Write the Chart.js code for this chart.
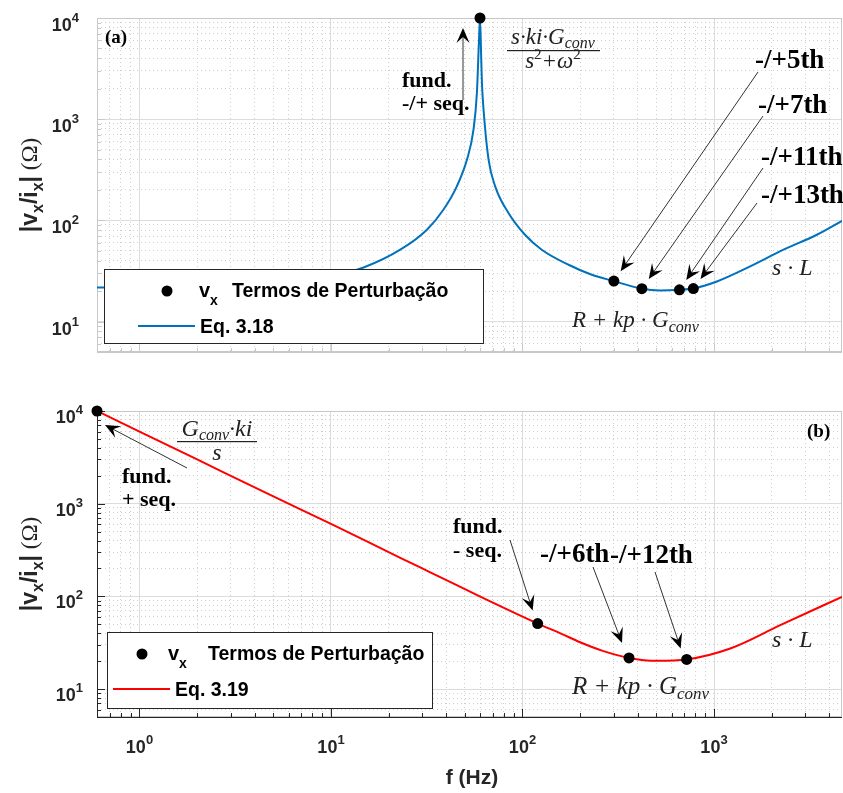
<!DOCTYPE html>
<html>
<head>
<meta charset="utf-8">
<script src="https://cdn.jsdelivr.net/npm/chart.js@4.4.0/dist/chart.umd.min.js"></script>
<style>
  body { margin: 0; background: #fff; width: 843px; height: 793px; overflow: hidden; position: relative; }
  canvas { position: absolute; left: 0; }
  #topChart { top: 0; }
  #botChart { top: 380px; }
</style>
</head>
<body>
<canvas id="topChart" width="843" height="380"></canvas>
<canvas id="botChart" width="843" height="413"></canvas>
<script>
// ---- data ----
// (a) Eq. 3.18
const freqA = [0.6, 2, 5, 8, 11, 14.8, 23, 31.7, 38.7, 45.4, 51.3, 55.5, 57.8, 59.2, 60,
               60.9, 61.4, 62.6, 66.5, 72, 84.5, 103, 126, 174, 230, 300, 420, 524, 658, 777,
               1035, 1545, 2307, 3444, 4660];
const zA = [21.7, 21.7, 23.2, 25.8, 29.3, 34.2, 51.3, 80.9, 128, 217, 399, 791, 1824, 5700, 10000,
            3900, 2290, 1247, 399, 217, 118, 72, 51.3, 36.4, 29.0, 25.1, 21.1, 20.3, 20.6, 21.2,
            24.9, 35.1, 51.3, 72.1, 99];
const harmFreqA = [60, 300, 420, 660, 780];
const harmZA = [10000, 25.1, 21.1, 20.6, 21.2];

// (b) Eq. 3.19
const freqB = [0.6, 1, 2, 5, 10, 23, 33, 51.3, 76.5, 120, 160, 200, 260, 360, 504, 720,
               1216, 2218, 4660];
const zB = [10000, 6000, 3000, 1200, 605, 261, 182, 117, 78.4, 50.9, 39.5, 32, 26, 21.7, 20.2, 20.9,
            27.4, 48.9, 99];
const harmFreqB = [0.6, 120, 360, 720];
const harmZB = [10000, 50.9, 21.7, 20.9];

// tick labels (powers of ten)
const xTickExp = [0, 1, 2, 3];
const yTickExp = [1, 2, 3, 4];

const X_MIN = 0.6, X_MAX = 4660;
const Y_MIN = 5, Y_MAX = 10000;

const SANS = "'Liberation Sans', Arial, sans-serif";
const SERIF = "'Liberation Serif', 'Times New Roman', serif";
const BLUE = '#0072BD';
const RED = '#FF0000';

// draw a run of text pieces (text, font, dy) one after another
function rich(ctx, parts, x, y, align) {
  let w = 0;
  parts.forEach(p => { ctx.font = p[1]; w += ctx.measureText(p[0]).width; });
  let cx = align === 'right' ? x - w : align === 'center' ? x - w / 2 : x;
  ctx.textAlign = 'left';
  ctx.textBaseline = 'alphabetic';
  parts.forEach(p => {
    ctx.font = p[1];
    ctx.fillText(p[0], cx, y + (p[2] || 0));
    cx += ctx.measureText(p[0]).width;
  });
}

// thin line with a filled notched head at (x2, y2)
function arrow(ctx, x1, y1, x2, y2) {
  const len = 15, half = 6.5;
  const a = Math.atan2(y2 - y1, x2 - x1);
  const c = Math.cos(a), s = Math.sin(a);
  ctx.save();
  ctx.strokeStyle = '#333';
  ctx.lineWidth = 1;
  ctx.beginPath();
  ctx.moveTo(x1, y1);
  ctx.lineTo(x2 - c * len * 0.5, y2 - s * len * 0.5);
  ctx.stroke();
  const bx = x2 - c * len, by = y2 - s * len;
  ctx.fillStyle = '#000';
  ctx.beginPath();
  ctx.moveTo(x2, y2);
  ctx.lineTo(bx - s * half, by + c * half);
  ctx.lineTo(x2 - c * len * 0.6, y2 - s * len * 0.6);
  ctx.lineTo(bx + s * half, by - c * half);
  ctx.closePath();
  ctx.fill();
  ctx.restore();
}

function logTicks(min, max, exps) {
  const out = [];
  const bases = [Math.pow(10, exps[0] - 1)].concat(exps.map(e => Math.pow(10, e)));
  bases.forEach(b => {
    for (let m = 1; m <= 9; m++) {
      const v = m * b;
      if (v >= min * 0.999 && v <= max * 1.001) out.push({ value: v, major: m === 1 });
    }
  });
  return out;
}

function axisOpts(min, max, exps) {
  return {
    type: 'logarithmic',
    min: min,
    max: max,
    afterBuildTicks: s => { s.ticks = logTicks(min, max, exps); },
    afterFit: s => {
      if (s.isHorizontal()) s.height = 0; else s.width = 0;
      s.paddingLeft = s.paddingRight = s.paddingTop = s.paddingBottom = 0;
    },
    ticks: { display: false, autoSkip: false },
    grid: {
      drawTicks: false,
      color: c => (c.tick && c.tick.major) ? '#dcdcdc' : '#cfcfcf',
      lineWidth: 1
    },
    border: {
      display: false,
      dash: c => (c.tick && c.tick.major) ? [] : [1, 3]
    }
  };
}

// frame and tick marks
function drawFrame(chart, p) {
  const ctx = chart.ctx;
  const { left, right, top, bottom } = chart.chartArea;
  const sx = chart.scales.x, sy = chart.scales.y;
  ctx.save();
  ctx.lineWidth = 1;
  ctx.strokeStyle = '#c8c8c8';
  ctx.strokeRect(left + 0.5, top + 0.5, right - left - 1, bottom - top - 1);
  ctx.strokeStyle = p.axisColor;
  ctx.beginPath();
  ctx.moveTo(left + 0.5, top); ctx.lineTo(left + 0.5, bottom + 0.5);
  ctx.lineTo(right, bottom + 0.5);
  ctx.stroke();
  sy.ticks.forEach(t => {
    const y = Math.round(sy.getPixelForValue(t.value)) + 0.5;
    const L = t.major ? 8 : 4;
    ctx.beginPath(); ctx.moveTo(left, y); ctx.lineTo(left + L, y); ctx.stroke();
  });
  sx.ticks.forEach(t => {
    const x = Math.round(sx.getPixelForValue(t.value)) + 0.5;
    const L = t.major ? 8 : 4;
    ctx.beginPath(); ctx.moveTo(x, bottom); ctx.lineTo(x, bottom - L); ctx.stroke();
  });
  ctx.restore();
}

function drawTickLabels(chart, p) {
  const ctx = chart.ctx;
  const sx = chart.scales.x, sy = chart.scales.y;
  ctx.save();
  ctx.fillStyle = '#262626';
  yTickExp.forEach(e => {
    const y = sy.getPixelForValue(Math.pow(10, e));
    rich(ctx, [['10', `bold ${p.tickFont}px ${SANS}`], [String(e), `bold ${p.supFont}px ${SANS}`, -9]],
      p.yLabelRight, y + p.yLabelDy, 'right');
  });
  if (p.xLabels) {
    xTickExp.forEach(e => {
      const x = sx.getPixelForValue(Math.pow(10, e));
      rich(ctx, [['10', `bold ${p.tickFont}px ${SANS}`], [String(e), `bold ${p.supFont}px ${SANS}`, -9]],
        x, p.xLabelY, 'center');
    });
    ctx.font = `bold 21px ${SANS}`;
    ctx.textAlign = 'center';
    ctx.fillText('f (Hz)', 472, p.xTitleY);
  }
  // y title, rotated
  ctx.translate(37, p.yTitleY);
  ctx.rotate(-Math.PI / 2);
  const big = `bold 23px ${SANS}`, sub = `bold 16px ${SANS}`;
  rich(ctx, [['|v', big], ['x', sub, 6], ['/i', big], ['x', sub, 6], ['|', big], [' (\u03A9)', `23px ${SERIF}`]], 0, 0, 'center');
  ctx.restore();
}

function drawLegend(ctx, b, color, eq) {
  ctx.save();
  ctx.fillStyle = '#fff';
  ctx.fillRect(b.x, b.y, b.w, b.h);
  ctx.strokeStyle = '#262626';
  ctx.lineWidth = 1;
  ctx.strokeRect(b.x + 0.5, b.y + 0.5, b.w, b.h);
  ctx.fillStyle = '#000';
  ctx.beginPath(); ctx.arc(b.dotX, b.dotY, 5.5, 0, Math.PI * 2); ctx.fill();
  rich(ctx, [['v', `bold 20px ${SANS}`], ['x', `bold 14px ${SANS}`, 8]], b.vX, b.dotY + 6, 'left');
  ctx.font = `bold 19.5px ${SANS}`;
  ctx.fillText('Termos de Perturba\u00e7\u00e3o', b.tX, b.dotY + 6);
  ctx.strokeStyle = color;
  ctx.lineWidth = 2;
  ctx.beginPath(); ctx.moveTo(b.lineX1, b.lineY); ctx.lineTo(b.lineX2, b.lineY); ctx.stroke();
  ctx.fillText(eq, b.lineX2 + 5, b.lineY + 7);
  ctx.restore();
}

function dotPx(chart, f, z) {
  return { x: chart.scales.x.getPixelForValue(f), y: chart.scales.y.getPixelForValue(z) };
}

// ---- panel (a) annotations ----
function decoA(chart) {
  const ctx = chart.ctx;
  drawTickLabels(chart, { tickFont: 18, supFont: 13, yLabelRight: 79, yLabelDy: 13, xLabels: false, yTitleY: 185 });
  drawLegend(ctx, { x: 104, y: 269, w: 379, h: 74, dotX: 167, dotY: 291, vX: 199, tX: 232,
    lineX1: 138, lineX2: 195, lineY: 326 }, BLUE, 'Eq. 3.18');

  ctx.save();
  ctx.fillStyle = '#000';
  const bs = `bold 22px ${SERIF}`;
  rich(ctx, [['(a)', `bold 19px ${SERIF}`]], 105, 43, 'left');
  rich(ctx, [['fund.', bs]], 402, 87, 'left');
  rich(ctx, [['-/+ seq.', bs]], 402, 110, 'left');
  arrow(ctx, 463, 100, 463, 28);

  // resonant term
  ctx.fillStyle = '#222';
  const it = `italic 23px ${SERIF}`, its = `italic 16px ${SERIF}`, sup = `15px ${SERIF}`;
  rich(ctx, [['s\u00b7ki\u00b7G', it], ['conv', its, 4]], 553, 44, 'center');
  ctx.fillRect(507, 50, 93, 1.2);
  rich(ctx, [['s', it], ['2', sup, -9], ['+\u03c9', it], ['2', sup, -9]], 553, 68, 'center');
  rich(ctx, [['s \u00b7 L', `italic 24px ${SERIF}`]], 772, 275, 'left');
  rich(ctx, [['R + kp \u00b7 G', `italic 23px ${SERIF}`], ['conv', `italic 16px ${SERIF}`, 5]], 572, 327, 'left');

  ctx.fillStyle = '#000';
  const hs = `bold 27px ${SERIF}`;
  const harm = [['-/+5th', 755, 68, 758, 72], ['-/+7th', 758, 113, 763, 116],
                ['-/+11th', 761, 165, 763, 168], ['-/+13th', 761, 203, 757, 203]];
  harm.forEach((h, i) => {
    rich(ctx, [[h[0], hs]], h[1], h[2], 'left');
    const d = dotPx(chart, harmFreqA[i + 1], harmZA[i + 1]);
    const dx = h[3] - d.x, dy = h[4] - d.y, n = Math.hypot(dx, dy);
    arrow(ctx, h[3], h[4], d.x + dx / n * 12, d.y + dy / n * 12);
  });
  ctx.restore();
}

// ---- panel (b) annotations (page coordinates, canvas starts at y=380) ----
function decoB(chart) {
  const ctx = chart.ctx;
  drawTickLabels(chart, { tickFont: 18, supFont: 13, yLabelRight: 83, yLabelDy: 12, xLabels: true,
    xLabelY: 373, xTitleY: 404, yTitleY: 184 });
  ctx.save();
  ctx.translate(0, -380);
  drawLegend(ctx, { x: 107, y: 632, w: 325, h: 76, dotX: 142, dotY: 654, vX: 168, tX: 208,
    lineX1: 113, lineX2: 170, lineY: 689 }, RED, 'Eq. 3.19');

  ctx.fillStyle = '#000';
  const bs = `bold 22px ${SERIF}`;
  rich(ctx, [['(b)', `bold 19px ${SERIF}`]], 807, 437, 'left');
  rich(ctx, [['fund.', bs]], 122, 483, 'left');
  rich(ctx, [['+ seq.', bs]], 122, 506, 'left');
  rich(ctx, [['fund.', bs]], 453, 533, 'left');
  rich(ctx, [['- seq.', bs]], 453, 557, 'left');
  const hs = `bold 27px ${SERIF}`;
  rich(ctx, [['-/+6th', hs]], 540, 562, 'left');
  rich(ctx, [['-/+12th', hs]], 610, 563, 'left');

  const d0 = dotPx(chart, harmFreqB[0], harmZB[0]);
  const d1 = dotPx(chart, harmFreqB[1], harmZB[1]);
  const d2 = dotPx(chart, harmFreqB[2], harmZB[2]);
  const d3 = dotPx(chart, harmFreqB[3], harmZB[3]);
  arrow(ctx, 187, 468, d0.x + 8, d0.y + 380 + 14);
  arrow(ctx, 510, 540, d1.x - 5, d1.y + 380 - 13);
  arrow(ctx, 593, 567, d2.x - 7, d2.y + 380 - 15);
  arrow(ctx, 655, 572, d3.x - 6, d3.y + 380 - 11);

  ctx.fillStyle = '#222';
  const it = `italic 24px ${SERIF}`;
  rich(ctx, [['G', it], ['conv', `italic 16px ${SERIF}`, 4], ['\u00b7ki', it]], 217, 436, 'center');
  ctx.fillRect(177, 441, 80, 1.2);
  rich(ctx, [['s', it]], 217, 460, 'center');
  rich(ctx, [['s \u00b7 L', `italic 24px ${SERIF}`]], 772, 647, 'left');
  rich(ctx, [['R + kp \u00b7 G', `italic 25px ${SERIF}`], ['conv', `italic 17px ${SERIF}`, 5]], 572, 694, 'left');
  ctx.restore();
}

function buildChart(canvasId, cfg) {
  const ctx = document.getElementById(canvasId).getContext('2d');
  return new Chart(ctx, {
    type: 'scatter',
    data: {
      datasets: [
        {
          label: 'vx Termos de Perturba\u00e7\u00e3o',
          data: cfg.dotX.map((x, i) => ({ x: x, y: cfg.dotY[i] })),
          pointRadius: 5.5,
          pointBackgroundColor: '#000',
          pointBorderWidth: 0,
          showLine: false,
          clip: false,
          order: 0
        },
        {
          label: cfg.eq,
          data: cfg.curveX.map((x, i) => ({ x: x, y: cfg.curveY[i] })),
          showLine: true,
          borderColor: cfg.color,
          borderWidth: 2,
          pointRadius: 0,
          cubicInterpolationMode: 'monotone',
          order: 1
        }
      ]
    },
    options: {
      responsive: false,
      devicePixelRatio: 1,
      animation: false,
      events: [],
      layout: { padding: cfg.padding, autoPadding: false },
      plugins: { legend: { display: false }, tooltip: { enabled: false } },
      scales: {
        x: axisOpts(X_MIN, X_MAX, xTickExp),
        y: axisOpts(Y_MIN, Y_MAX, yTickExp)
      }
    },
    plugins: [{
      id: 'deco',
      beforeDatasetsDraw: chart => drawFrame(chart, { axisColor: cfg.axisColor }),
      afterDraw: cfg.deco
    }]
  });
}

buildChart('topChart', {
  curveX: freqA, curveY: zA, dotX: harmFreqA, dotY: harmZA, color: BLUE, eq: 'Eq. 3.18',
  padding: { left: 97, top: 18, right: 1, bottom: 28 }, axisColor: '#c8c8c8', deco: decoA
});
buildChart('botChart', {
  curveX: freqB, curveY: zB, dotX: harmFreqB, dotY: harmZB, color: RED, eq: 'Eq. 3.19',
  padding: { left: 97, top: 31, right: 1, bottom: 76 }, axisColor: '#262626', deco: decoB
});
</script>
</body>
</html>
